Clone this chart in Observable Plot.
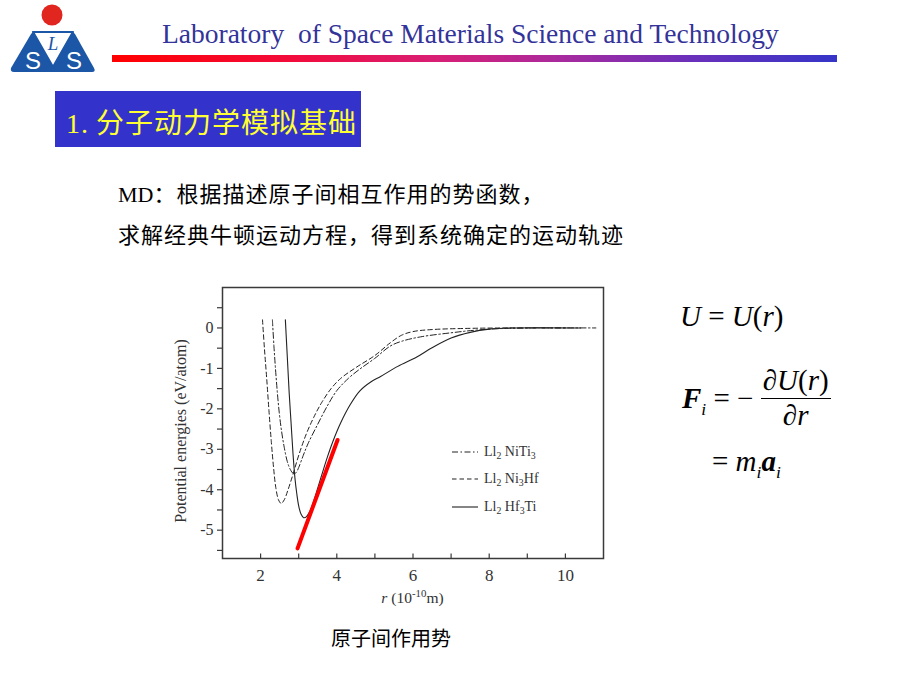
<!DOCTYPE html>
<html>
<head>
<meta charset="utf-8">
<script src="https://cdn.jsdelivr.net/npm/d3@7"></script>
<script src="https://cdn.jsdelivr.net/npm/@observablehq/plot@0.6"></script>
<style>
  html, body { margin: 0; padding: 0; background: #fff; }
  #page { position: relative; width: 920px; height: 690px; overflow: hidden; background: #fff; }
  .abs { position: absolute; white-space: nowrap; }
  .serif { font-family: "Liberation Serif", "DejaVu Serif", serif; }
  .cjk { font-family: "Noto Sans CJK SC", "Noto Sans", sans-serif; }
  #header { left: 162px; top: 18px; font-size: 27.5px; color: #333399; }
  #bar { left: 112px; top: 55px; width: 725px; height: 7px;
         background: linear-gradient(to right, #ff0000 0%, #f20c3c 25%, #d81f76 45%, #a82a9e 62%, #6a30bb 80%, #3535c8 100%); }
  #box { left: 55px; top: 91px; width: 306px; height: 56px; background: #3333cc; }
  #boxText { left: 66px; top: 101px; font-size: 28px; color: #ffff33; letter-spacing: 1px; }
  .body { font-size: 22px; color: #000; letter-spacing: 1px; }
  #legend { left: 452px; top: 438px; font-size: 14px; color: #333; }
  #legend .row { display: flex; align-items: center; height: 27.5px; }
  #legend svg { margin-right: 6px; }
  #xlabel { left: 222px; top: 589px; width: 381px; text-align: center; font-size: 15.5px; color: #333; }
  #caption { left: 331px; top: 623px; font-size: 20px; color: #000; }
  .math { font-family: "Liberation Serif", "DejaVu Serif", serif; font-size: 29px; color: #000; }
  .frac { display: inline-flex; flex-direction: column; align-items: center; vertical-align: middle; }
  .frac .num { border-bottom: 1.3px solid #000; padding: 0 2px 1px 2px; }
</style>
</head>
<body>
<div id="page">
  <div id="chart" class="abs" style="left:160px; top:280px;"></div>
</div>
<script>
// ---------- Text content ----------
const headerText = "Laboratory  of Space Materials Science and Technology";
const sectionNo = "1.";
const sectionTitle = "分子动力学模拟基础";
const bodyLine1 = ["MD", "：根据描述原子间相互作用的势函数，"];
const bodyLine2 = "求解经典牛顿运动方程，得到系统确定的运动轨迹";
const captionText = "原子间作用势";
const yLabel = "Potential energies (eV/atom)";

// ---------- Axis ticks ----------
const xDomain = [1, 11];
const yDomain = [-5.7, 1];
const xTickLabels = [2, 4, 6, 8, 10];
const xTickAll = [2, 3, 4, 5, 6, 7, 8, 9, 10];
const yTicksAll = [0.5, 0, -0.5, -1, -1.5, -2, -2.5, -3, -3.5, -4, -4.5, -5, -5.5];

// ---------- Series: L12 NiTi3 (dash-dot) ----------
const niTi3R = [2.31, 2.35, 2.39, 2.44, 2.49, 2.55, 2.62, 2.7, 2.78, 2.86, 2.93, 3.0, 3.12, 3.25, 3.5, 3.75, 4.0, 4.3, 4.6, 5.0, 5.4, 5.7, 6.2, 7.0, 7.7, 8.5, 10.8];
const niTi3U = [0.2, -0.45, -1.0, -1.6, -2.1, -2.55, -2.95, -3.3, -3.5, -3.6, -3.58, -3.45, -3.15, -2.85, -2.38, -1.93, -1.55, -1.25, -1.02, -0.75, -0.45, -0.33, -0.22, -0.12, -0.05, -0.01, 0];

// ---------- Series: L12 Ni3Hf (dashed) ----------
const ni3HfR = [2.05, 2.1, 2.16, 2.22, 2.28, 2.34, 2.4, 2.47, 2.54, 2.62, 2.72, 2.85, 3.0, 3.2, 3.4, 3.6, 3.85, 4.1, 4.5, 5.0, 5.4, 5.7, 6.0, 6.5, 7.5, 8.5, 10.0];
const ni3HfU = [0.2, -0.5, -1.25, -2.05, -2.8, -3.45, -3.95, -4.25, -4.34, -4.25, -4.0, -3.62, -3.15, -2.62, -2.2, -1.85, -1.5, -1.25, -0.98, -0.68, -0.37, -0.18, -0.09, -0.04, -0.01, 0, 0];

// ---------- Series: L12 Hf3Ti (solid) ----------
const hf3TiR = [2.65, 2.7, 2.75, 2.8, 2.85, 2.9, 2.95, 3.0, 3.06, 3.13, 3.2, 3.3, 3.4, 3.6, 3.75, 3.9, 4.1, 4.35, 4.6, 4.9, 5.15, 5.6, 6.1, 6.5, 7.0, 7.5, 8.0, 8.6, 10.4];
const hf3TiU = [0.2, -0.7, -1.6, -2.35, -3.1, -3.7, -4.1, -4.4, -4.6, -4.69, -4.67, -4.52, -4.26, -3.65, -3.2, -2.8, -2.35, -1.9, -1.56, -1.33, -1.2, -0.95, -0.72, -0.49, -0.25, -0.11, -0.03, 0, 0];

// ---------- Red tangent line ----------
const redR = [2.97, 4.02];
const redU = [-5.45, -2.77];

const toRows = (rs, us) => rs.map((r, i) => ({r, U: us[i]}));

const chart = Plot.plot({
  width: 450,
  height: 330,
  marginLeft: 62,
  marginRight: 7,
  marginTop: 7,
  marginBottom: 52,
  x: {domain: xDomain},
  y: {domain: yDomain},
  style: {fontFamily: "Liberation Serif, DejaVu Serif, serif", fontSize: "16px", color: "#3a3a3a", background: "transparent", overflow: "visible"},
  marks: [
    Plot.axisX({ticks: xTickLabels, tickSize: 0, tickPadding: 10, label: null, tickFormat: d => String(d), fill: "#333", fontSize: 17}),
    Plot.ruleX(xTickAll, {x: d => d, y1: yDomain[0], y2: yDomain[0] + 0.11, stroke: "#3a3a3a", strokeWidth: 1.2}),
    Plot.axisY({ticks: yTicksAll, tickSize: 5, tickPadding: 4, label: null, stroke: "#3a3a3a", strokeWidth: 1.2,
                tickFormat: d => Number.isInteger(d) ? String(d) : "", fill: "#333", fontSize: 16}),
    Plot.text([yLabel], {text: d => d, frameAnchor: "left", textAnchor: "middle", rotate: -90, dx: -42, dy: 8, fontSize: 16, fill: "#333"}),
    Plot.line(toRows(niTi3R, niTi3U), {x: "r", y: "U", curve: "catmull-rom", stroke: "#222", strokeWidth: 1, strokeDasharray: "6,2.5,1.5,2.5"}),
    Plot.line(toRows(ni3HfR, ni3HfU), {x: "r", y: "U", curve: "catmull-rom", stroke: "#222", strokeWidth: 1, strokeDasharray: "4.5,3"}),
    Plot.line(toRows(hf3TiR, hf3TiU), {x: "r", y: "U", curve: "catmull-rom", stroke: "#222", strokeWidth: 1.1}),
    Plot.line(toRows(redR, redU), {x: "r", y: "U", stroke: "#ff0000", strokeWidth: 4}),
    Plot.frame({stroke: "#3a3a3a", strokeWidth: 1.5})
  ]
});
document.getElementById("chart").appendChild(chart);

// ---------- Slide decorations & text ----------
const page = document.getElementById("page");
function add(html) { page.insertAdjacentHTML("beforeend", html); }

// logo
add(`<svg class="abs" style="left:0;top:0" width="110" height="80" viewBox="0 0 110 80">
  <circle cx="52" cy="15" r="10.5" fill="#e0261e"/>
  <path d="M31,34 L11,68 Q10,72 14,72 L52,72 Q56,72 54,68 L35,34 Q33,31 31,34 Z" fill="#1c56a6"/>
  <path d="M71,34 L51,68 Q49,72 53,72 L92,72 Q96,72 94,68 L75,34 Q73,31 71,34 Z" fill="#1c56a6"/>
  <path d="M33,32 L73,32 L53,67 Z" fill="#fff" stroke="#1c56a6" stroke-width="2.2" stroke-linejoin="round"/>
  <text x="53" y="50" text-anchor="middle" font-family="Liberation Serif" font-style="italic" font-size="19" fill="#1c56a6">L</text>
  <text x="33" y="69" text-anchor="middle" font-family="Liberation Sans" font-size="24" fill="#fff">S</text>
  <text x="74" y="69" text-anchor="middle" font-family="Liberation Sans" font-size="24" fill="#fff">S</text>
</svg>`);

add(`<div id="header" class="abs serif">${headerText.replace("  ", "&nbsp; ")}</div>`);
add(`<div id="bar" class="abs"></div>`);
add(`<div id="box" class="abs"></div>`);
add(`<div id="boxText" class="abs"><span class="serif">${sectionNo}</span><span class="cjk" style="margin-left:7px">${sectionTitle}</span></div>`);
add(`<div class="abs body" style="left:118px; top:176px;"><span class="serif" style="letter-spacing:0">${bodyLine1[0]}</span><span class="cjk">${bodyLine1[1]}</span></div>`);
add(`<div class="abs body cjk" style="left:118px; top:217px;">${bodyLine2}</div>`);

// legend
const dashes = ["6,2.5,1.5,2.5", "4.5,3", null];
const legendHtml = [
  `Ll<sub>2</sub> NiTi<sub>3</sub>`,
  `Ll<sub>2</sub> Ni<sub>3</sub>Hf`,
  `Ll<sub>2</sub> Hf<sub>3</sub>Ti`
];
add(`<div id="legend" class="abs serif">${legendHtml.map((t, i) => `<div class="row"><svg width="26" height="6"><line x1="0" y1="3" x2="26" y2="3" stroke="#222" stroke-width="1.1" ${dashes[i] ? `stroke-dasharray="${dashes[i]}"` : ""}/></svg><span>${t}</span></div>`).join("")}</div>`);
add(`<style>#legend sub{font-size:0.7em; vertical-align:-0.35em; line-height:0}</style>`);

add(`<div id="xlabel" class="abs serif"><i>r</i> (10<sup style="font-size:0.7em;line-height:0">-10</sup>m)</div>`);
add(`<div id="caption" class="abs cjk">${captionText}</div>`);

// formulas
add(`<div class="abs math" style="left:680px; top:300px;"><i>U</i> = <i>U</i>(<i>r</i>)</div>`);
add(`<div class="abs math" style="left:682px; top:364px; display:flex; align-items:center;">
  <span><b><i>F</i></b><sub style="font-size:0.6em;line-height:0"><i>i</i></sub> = −&nbsp;</span>
  <span class="frac"><span class="num">∂<i>U</i>(<i>r</i>)</span><span>∂<i>r</i></span></span></div>`);
add(`<div class="abs math" style="left:712px; top:445px;">= <i>m</i><sub style="font-size:0.6em;line-height:0"><i>i</i></sub><b><i>a</i></b><sub style="font-size:0.6em;line-height:0"><i>i</i></sub></div>`);
</script>
</body>
</html>
